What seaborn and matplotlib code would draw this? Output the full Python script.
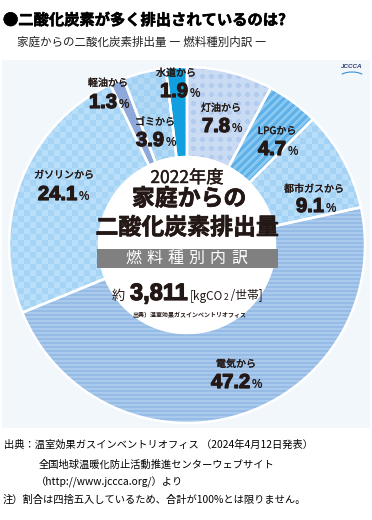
import numpy as np
import matplotlib
matplotlib.use('Agg')
import matplotlib.pyplot as plt
import matplotlib.colors as mcolors
import matplotlib.patheffects as pe
from matplotlib.patches import Rectangle, Circle, Arc
import seaborn as sns

# ---------------- data ----------------
categories = ['灯油', 'LPG', '都市ガス', '電気', 'ガソリン', '軽油', 'ゴミ', '水道']
values = [7.8, 4.7, 9.1, 47.2, 24.1, 1.3, 3.9, 1.9]
value_labels = ['7.8', '4.7', '9.1', '47.2', '24.1', '1.3', '3.9', '1.9']
year_label = '2022年度'
total_label = '3,811'
unit_label = ('[kgCO', '2', ' /世帯]')

# ---------------- style ----------------
sns.set_theme(style='white')
plt.rcParams['font.family'] = ['Noto Sans CJK JP', 'DejaVu Sans']
NUMFONT = ['Liberation Sans', 'DejaVu Sans']

W, H = 372, 520
fig = plt.figure(figsize=(W / 100, H / 100), dpi=100)
ax = fig.add_axes([0, 0, 1, 1])


def Y(py):
    return H - py


CX, CY = 187, Y(245)
R_OUT, R_IN = 178, 88
ink = '#231815'
heavy = [pe.withStroke(linewidth=0.9, foreground=ink)]
semi = [pe.withStroke(linewidth=0.5, foreground=ink)]

# pattern per slice: (kind, base colour, second colour)
styles = [
    ('dots', '#c8dbf2', '#b3cbee'),
    ('dstripe', '#88c7f0', '#5eb1e8'),
    ('checker', '#b7ddf8', '#a4d2f4'),
    ('hstripe', '#aacaed', '#96bce6'),
    ('checker', '#b8def9', '#a6d4f5'),
    ('solid', '#8ea9d9', '#8ea9d9'),
    ('checker', '#b2daf7', '#a1d0f3'),
    ('solid', '#119fe0', '#119fe0'),
]

yy, xx = np.mgrid[0:H, 0:W]
masks = {
    'checker': ((xx // 6 + yy // 6) % 2 == 1),
    'hstripe': ((yy // 2) % 2 == 1),
    'dstripe': (((xx + yy) // 4) % 2 == 1),
    'dots': (((xx % 9) - 4) ** 2 + ((yy % 9) - 4) ** 2) <= 6,
}


def pattern_img(kind, c1, c2):
    m = masks[kind]
    return np.where(m[..., None], np.array(mcolors.to_rgb(c2)), np.array(mcolors.to_rgb(c1)))


# background panel
ax.add_patch(Rectangle((2, Y(428)), 368, 368, facecolor='#f2f7fc', edgecolor='none', zorder=0))

wedges, _ = ax.pie(values, startangle=90, counterclock=False, radius=R_OUT,
                   center=(CX, CY), colors=[s[1] for s in styles],
                   wedgeprops=dict(width=R_OUT - R_IN, linewidth=0))
for w in wedges:
    w.set_zorder(1)
for w, (kind, c1, c2) in zip(wedges, styles):
    if kind == 'solid':
        continue
    im = ax.imshow(pattern_img(kind, c1, c2), extent=(0, W, 0, H), origin='upper',
                   interpolation='nearest', zorder=1.5)
    im.set_clip_path(w)

edges, _ = ax.pie(values, startangle=90, counterclock=False, radius=R_OUT,
                  center=(CX, CY),
                  wedgeprops=dict(width=R_OUT - R_IN, facecolor='none',
                                  edgecolor='white', linewidth=1.8))
for e in edges:
    e.set_zorder(2)

# centre
ax.add_patch(Circle((CX, CY), R_IN + 1, facecolor='white', edgecolor='none', zorder=3))

# slice labels (layout)
label_cx = [221, 277, 314, 236, 64, 108, 155, 176]
label_cy = [108, 131, 189, 364, 175, 83, 122, 73]
num_x = [202, 258, 296, 211, 38, 89, 136, 160]
num_base = [132, 155, 212, 388, 200, 108, 146, 97]
NUMSZ = 14.5
for cat, vl, lx, ly, nx, nb in zip(categories, value_labels, label_cx, label_cy, num_x, num_base):
    ax.text(lx, Y(ly), cat + 'から', fontsize=7.2, color=ink, ha='center',
            va='center', zorder=5, path_effects=[pe.withStroke(linewidth=0.25, foreground=ink)])
    t = ax.text(nx, Y(nb), vl, fontsize=NUMSZ, fontweight='bold', family=NUMFONT,
                color=ink, ha='left', va='baseline', zorder=5, path_effects=heavy)
    ax.annotate('%', xy=(1, 0), xycoords=t, xytext=(1.2, 0.21 * NUMSZ),
                textcoords='offset points', fontsize=8.5, fontweight='bold', family=NUMFONT,
                color=ink, ha='left', va='baseline', zorder=5)

# centre texts
ax.text(CX, Y(178), year_label, fontsize=12.5, color=ink, ha='center', va='center', zorder=5,
        path_effects=[pe.withStroke(linewidth=0.3, foreground=ink)])
ax.text(CX + 2, Y(199), '家庭からの', fontsize=16.5, fontweight='bold', color=ink,
        ha='center', va='center', zorder=5, path_effects=semi)
ax.text(CX, Y(228), '二酸化炭素排出量', fontsize=16.5, fontweight='bold', color=ink,
        ha='center', va='center', zorder=5, path_effects=semi)
ax.add_patch(Rectangle((97, Y(268)), 181, 19, facecolor='#808080', edgecolor='none', zorder=4))
for i, ch in enumerate('燃料種別内訳'):
    ax.text(133 + i * 21.2, Y(258.5), ch, fontsize=11.5, color='white', ha='center',
            va='center', zorder=5)

ax.text(112, Y(300), '約', fontsize=9.5, color=ink, ha='left', va='baseline', zorder=5)
tt = ax.text(130, Y(300), total_label, fontsize=17, fontweight='bold', family=NUMFONT,
             color=ink, ha='left', va='baseline', zorder=5, path_effects=heavy)
u1 = ax.annotate(unit_label[0], xy=(1, 0), xycoords=tt, xytext=(1.5, 0.21 * 17),
                 textcoords='offset points', fontsize=8.5, color=ink, ha='left',
                 va='baseline', zorder=5)
u2 = ax.annotate(unit_label[1], xy=(1, 0), xycoords=u1, xytext=(0, 2.5),
                 textcoords='offset points', fontsize=6, color=ink, ha='left',
                 va='baseline', zorder=5)
ax.annotate(unit_label[2], xy=(1, 0), xycoords=u2, xytext=(0, 1.5),
            textcoords='offset points', fontsize=8.5, color=ink, ha='left',
            va='baseline', zorder=5)
ax.text(CX + 2, Y(314), '出典）温室効果ガスインベントリオフィス', fontsize=4.3, fontweight='bold',
        color=ink, ha='center', va='center', zorder=5)

# logo
ax.text(352, Y(67), 'JCCCA', fontsize=4.5, fontstyle='italic', fontweight='bold',
        color='#2a3a6e', family=NUMFONT, ha='center', va='center', zorder=5)
ax.add_patch(Arc((352, Y(78)), 26, 12, theta1=20, theta2=160, color='#3a8fd0', lw=0.8, zorder=5))

# titles
ax.text(3, Y(20), '●二酸化炭素が多く排出されているのは?', fontsize=11, fontweight='bold',
        color='black', ha='left', va='center',
        path_effects=[pe.withStroke(linewidth=0.4, foreground='black')])
ax.text(17, Y(42), '家庭からの二酸化炭素排出量 ― 燃料種別内訳 ―', fontsize=8.3,
        color='#222222', ha='left', va='center')

# footnotes
ax.text(4, Y(445), '出典：温室効果ガスインベントリオフィス （2024年4月12日発表）', fontsize=7.4,
        color='black', ha='left', va='center')
ax.text(39, Y(465), '全国地球温暖化防止活動推進センターウェブサイト', fontsize=7.4,
        color='black', ha='left', va='center')
ax.text(36, Y(482), '（http://www.jccca.org/）より', fontsize=7.4,
        color='black', ha='left', va='center')
ax.text(3, Y(500), '注）割合は四捨五入しているため、合計が100%とは限りません。', fontsize=7.4,
        color='black', ha='left', va='center')

ax.set_xlim(0, W)
ax.set_ylim(0, H)
ax.set_aspect('auto')
ax.axis('off')
fig.savefig('out.png', dpi=100, facecolor='white')
